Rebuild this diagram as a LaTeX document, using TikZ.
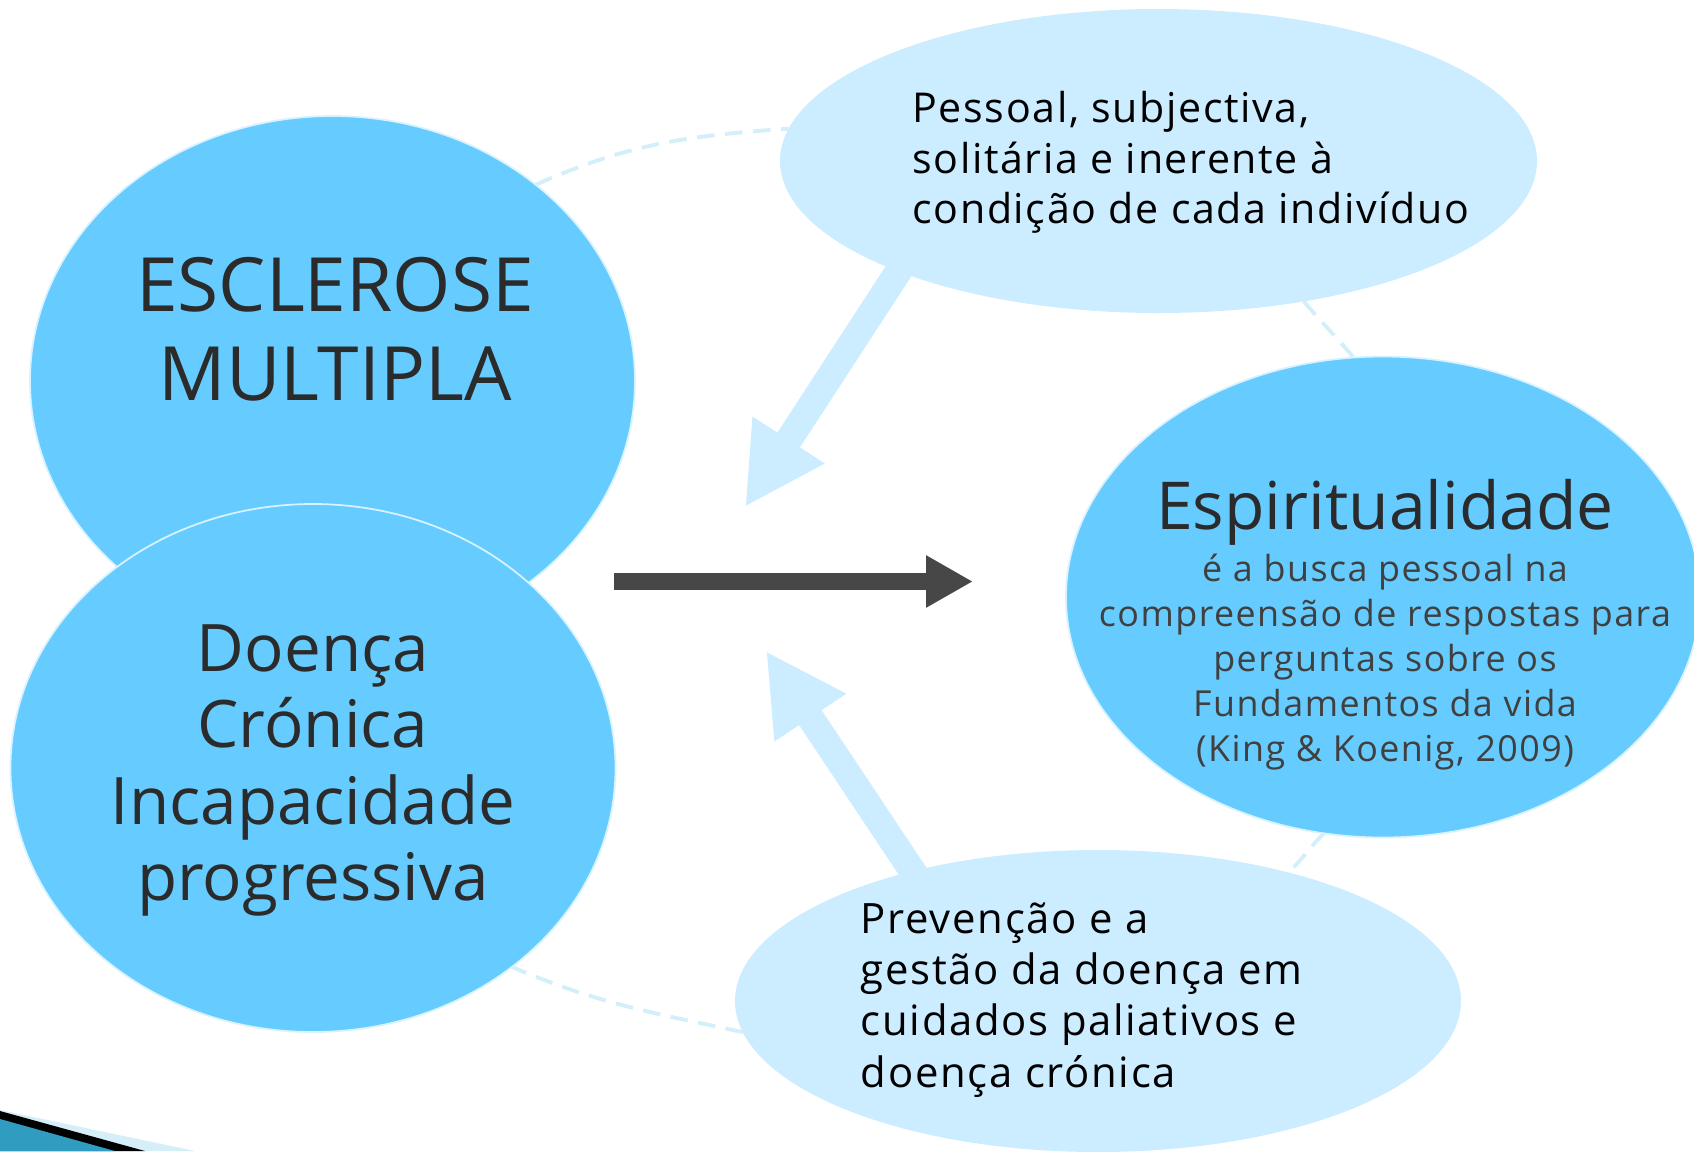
\documentclass[tikz,border=0pt]{standalone}
\usepackage{fontspec}
\setmainfont{Open Sans}
\newfontfamily\spacedfont[LetterSpace=4]{Open Sans}
\usepackage{tikz}
\usetikzlibrary{shapes,positioning}
\usetikzlibrary{arrows.meta}
\usetikzlibrary{backgrounds}
\definecolor{bigblue}{HTML}{66CCFF}
\definecolor{paleblue}{HTML}{CCECFF}
\definecolor{ringblue}{HTML}{D3EFFA}
\definecolor{darkarrow}{HTML}{474747}
\definecolor{inktxt}{HTML}{2B2B2B}
\definecolor{decoteal}{HTML}{2F9CC0}
\definecolor{decolight}{HTML}{D5EEF7}

\begin{document}
\begin{tikzpicture}
      \tikzstyle{bignode} = [ellipse, fill=bigblue, draw=white!75!bigblue, line width=0.5pt, inner sep=0pt, outer sep=0pt]
      \tikzstyle{palenode} = [ellipse, fill=paleblue, inner sep=0pt, outer sep=0pt]
      \tikzstyle{ring} = [ringblue, line width=1.1pt, dash pattern=on 5pt off 3pt]
      \tikzstyle{palearrow} = [paleblue, line width=0.27cm, -{Triangle[width=0.8cm,length=0.8cm]}]
      \tikzstyle{mainarrow} = [darkarrow, line width=0.17cm, -{Triangle[width=0.49cm,length=0.47cm]}]

      \useasboundingbox (0,0) rectangle (16.94,-11.51);

      % corner of the slide template
      \fill[decolight] (0,-11.10) -- (1.95,-11.51) -- (0,-11.51) -- cycle;
      \fill[black] (0,-11.11) -- (1.45,-11.51) -- (0,-11.51) -- cycle;
      \fill[decoteal] (0,-11.19) -- (1.15,-11.51) -- (0,-11.51) -- cycle;

      \node[bignode, minimum width=6.05cm, minimum height=5.30cm] (escl) at (3.325,-3.81) {};
      \node[bignode, minimum width=6.05cm, minimum height=5.28cm] (doenca) at (3.13,-7.68) {};
      \node[palenode, minimum width=7.57cm, minimum height=3.04cm] (pessoal) at (11.585,-1.61) {};
      \node[bignode, minimum width=6.34cm, minimum height=4.81cm] (espir) at (13.83,-5.97) {};
      \node[palenode, minimum width=7.26cm, minimum height=3.02cm] (prev) at (10.98,-10.01) {};

      \coordinate (tipup) at (7.45,-5.07);
      \coordinate (tipdown) at (7.66,-6.51);
      \coordinate (mainstart) at (6.14,-5.815);
      \coordinate (mainend) at (9.73,-5.815);

      \begin{scope}[on background layer]
        \draw[ring] (escl.44) to[out=24, in=184] (pessoal.175);
        \draw[ring] (pessoal.-44) to[out=-50, in=130] (espir.97);
        \draw[ring] (espir.-104) to[out=-136, in=44] (prev.34);
        \draw[ring] (prev.185) to[out=168, in=-23] (doenca.-45);
      \end{scope}

      \draw[palearrow, shorten <=-0.3cm] (pessoal.-157) -- (tipup);
      \draw[palearrow, shorten <=-0.3cm] (prev.145) -- (tipdown);
      \draw[mainarrow] (mainstart) -- (mainend);

      \node[inktxt, align=center, font=\fontsize{21.3}{25.3}\selectfont] (escltxt) at (3.35,-3.29) {ESCLEROSE\\MULTIPLA};
      \node[inktxt, align=center, font=\fontsize{18.65}{21.8}\selectfont] (doencatxt) at (3.13,-7.705) {Doença\\Crónica\\Incapacidade\\progressiva};
      \node[inktxt, font=\fontsize{18.8}{23}\selectfont] (espirtitle) at (13.85,-5.125) {Espiritualidade};
      \node[inktxt!90!white, align=center, font=\spacedfont\fontsize{10.2}{12.8}\selectfont] (espirtxt) at (13.85,-6.62) {é a busca pessoal na\\compreensão de respostas para\\perguntas sobre os\\Fundamentos da vida\\(King \& Koenig, 2009)};
      \node[black, align=left, anchor=west, font=\spacedfont\fontsize{11.7}{14.4}\selectfont] (pessoaltxt) at (9.0,-1.625) {Pessoal, subjectiva,\\solitária e inerente à\\condição de cada indivíduo};
      \node[black, align=left, anchor=west, font=\spacedfont\fontsize{11.9}{14.6}\selectfont] (prevtxt) at (8.485,-10.0) {Prevenção e a\\gestão da doença em\\cuidados paliativos e\\doença crónica};
\end{tikzpicture}
\end{document}
